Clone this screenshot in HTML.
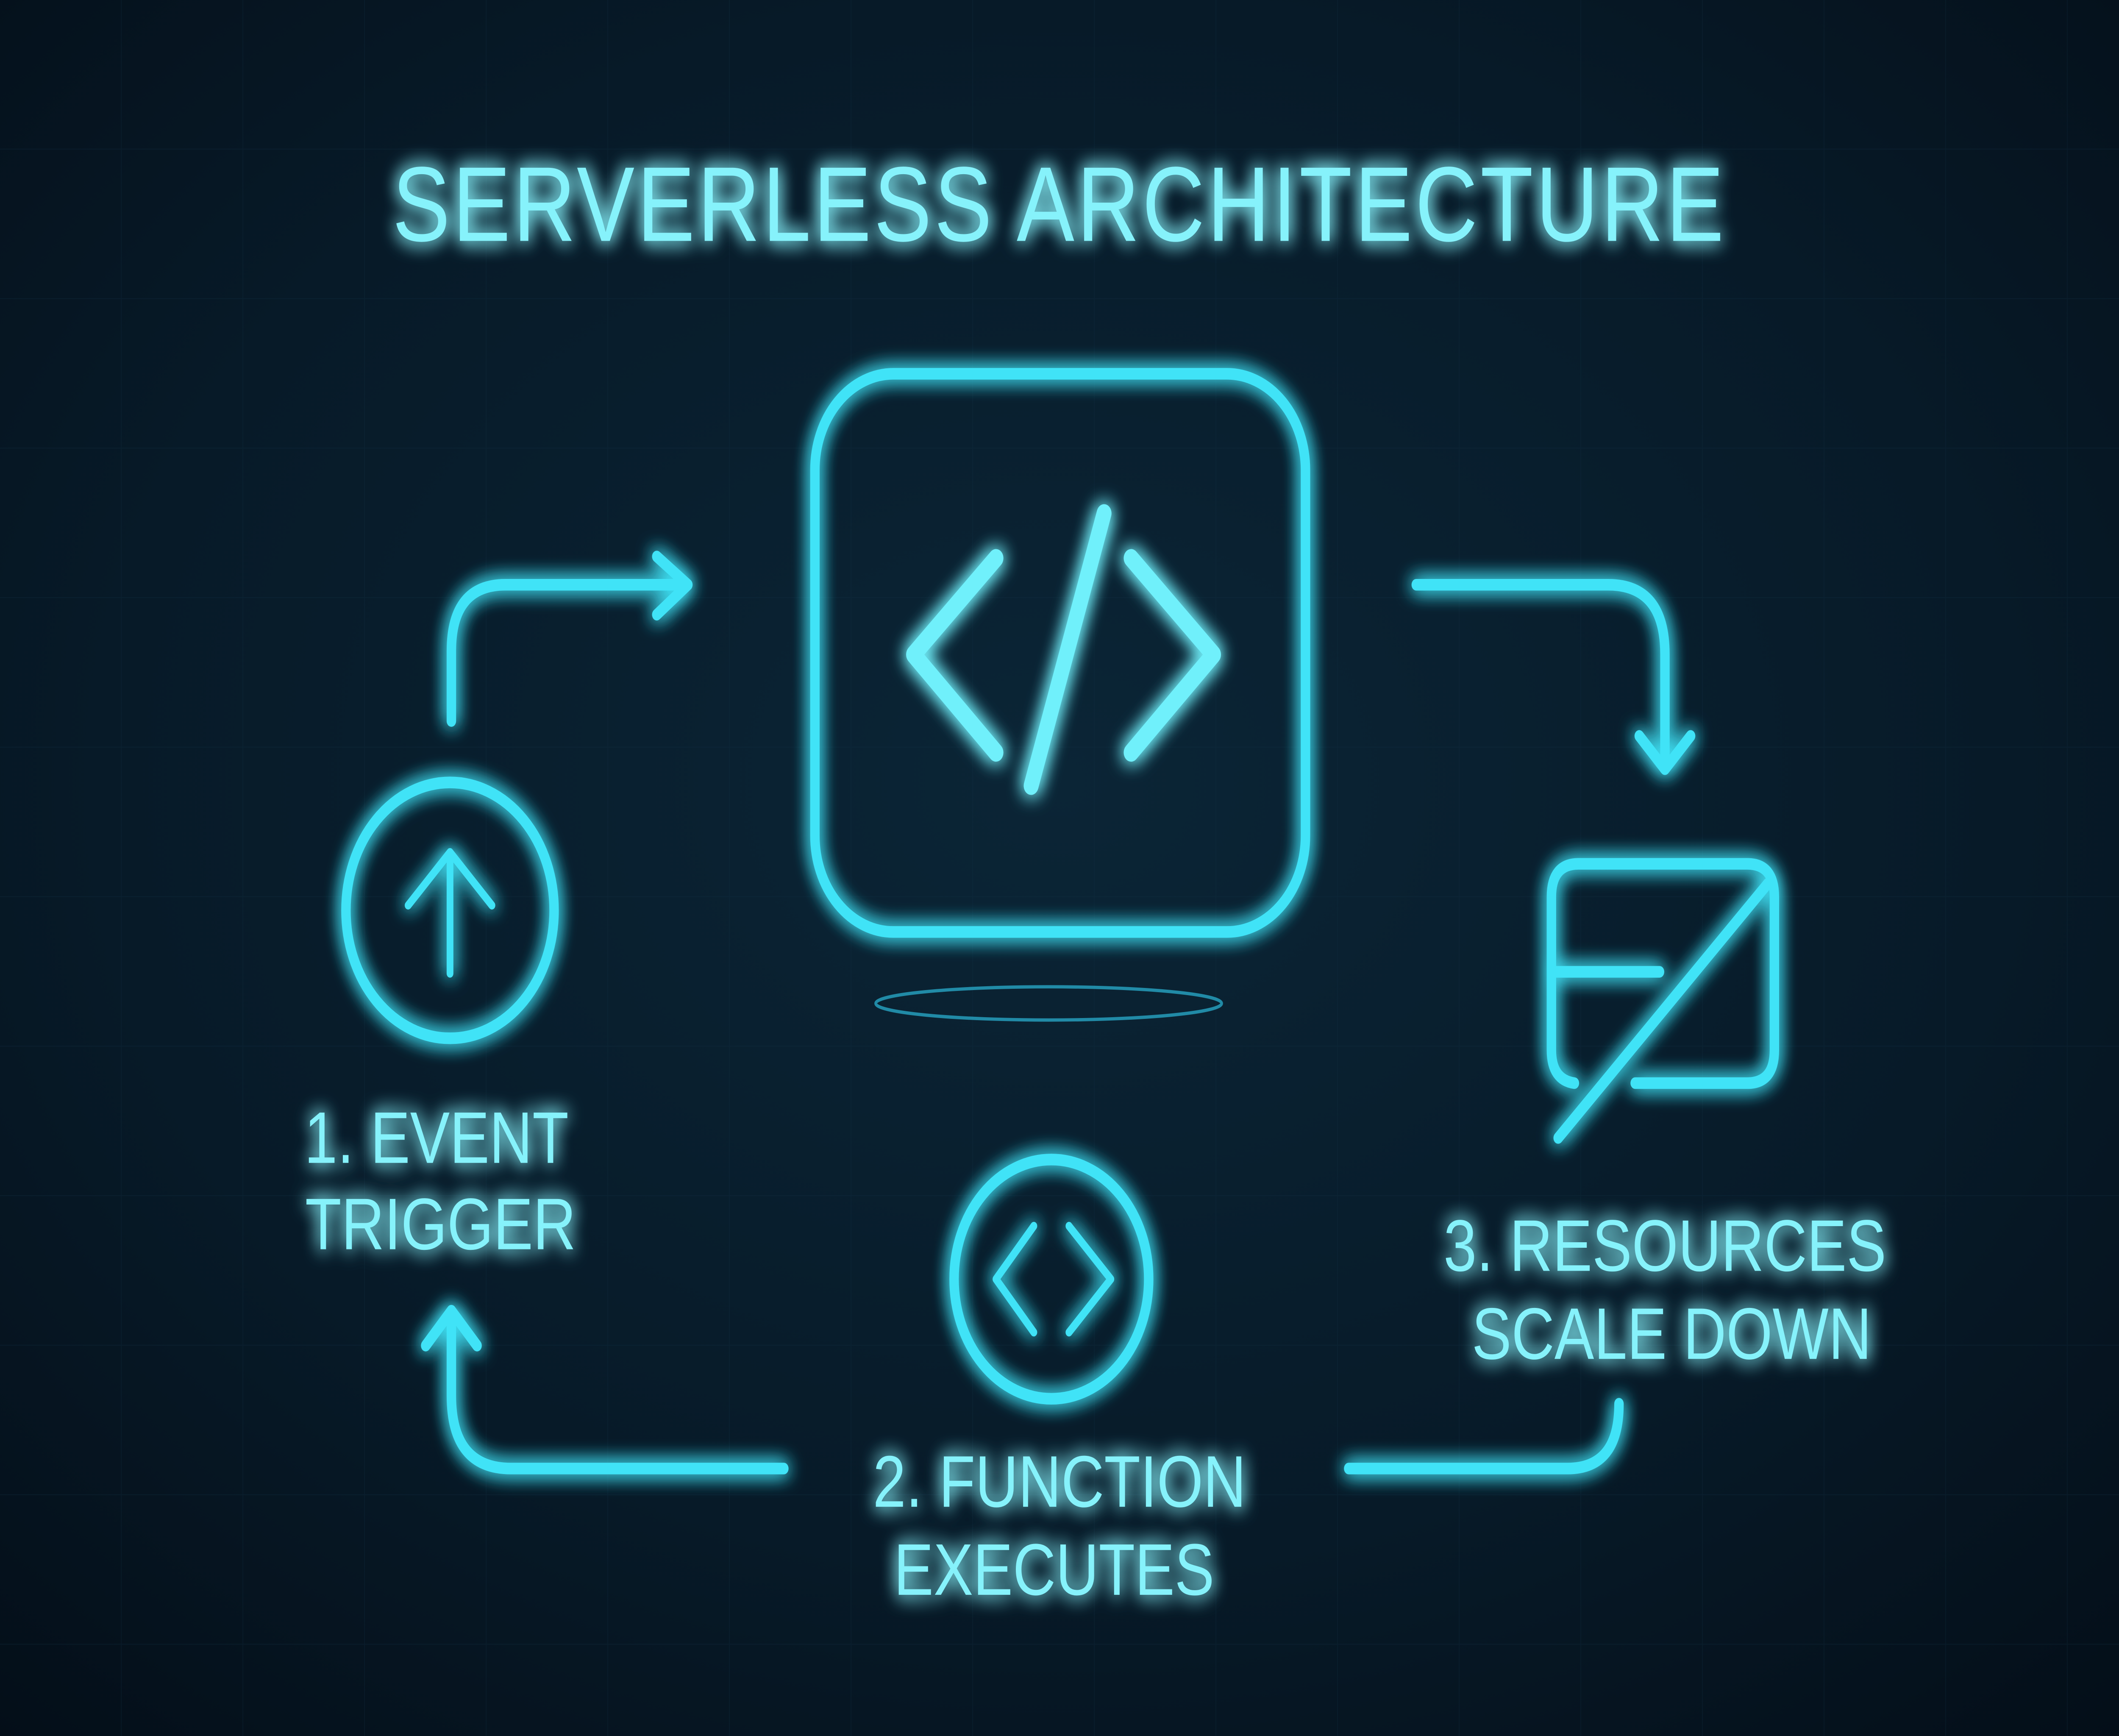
<!DOCTYPE html>
<html><head><meta charset="utf-8">
<style>
html,body{margin:0;padding:0;background:#06141f;overflow:hidden;width:100vw;height:100vh;}
svg{display:block;width:100vw;height:100vh;position:absolute;left:0;top:0;}
</style></head>
<body>
<svg viewBox="0 0 1568 1045" preserveAspectRatio="none" xmlns="http://www.w3.org/2000/svg">
<defs>
<radialGradient id="bg" cx="50%" cy="45%" r="75%">
<stop offset="0" stop-color="#0b2536"/>
<stop offset="0.6" stop-color="#071a28"/>
<stop offset="1" stop-color="#040e18"/>
</radialGradient>
<filter id="glow" x="-30%" y="-30%" width="160%" height="160%">
<feGaussianBlur stdDeviation="6" result="b"/>
<feMerge><feMergeNode in="b"/><feMergeNode in="b"/><feMergeNode in="SourceGraphic"/></feMerge>
</filter>
<filter id="soft"><feGaussianBlur stdDeviation="4"/></filter>
<pattern id="grid" width="90" height="90" patternUnits="userSpaceOnUse">
<path d="M90 0V90M0 90H90" stroke="#123044" stroke-width="1" fill="none" opacity="0.5"/>
</pattern>
</defs>
<rect width="1568" height="1045" fill="url(#bg)"/>
<rect width="1568" height="1045" fill="url(#grid)" opacity="0.6"/>

<g filter="url(#glow)" fill="none" stroke="#3fe3f7" stroke-width="7" stroke-linecap="round" stroke-linejoin="round">
<rect x="603" y="225" width="363" height="336" rx="58"/>
<path d="M737 336 L676 394 L737 453" stroke-width="11" stroke="#6ff0fb"/>
<path d="M837 336 L898 394 L837 453" stroke-width="11" stroke="#6ff0fb"/>
<path d="M817 309 L763 473" stroke-width="11" stroke="#6ff0fb"/>
<circle cx="333" cy="548" r="77"/>
<path d="M333 586 V513 M302 545 L333 513 L364 545" stroke-width="5"/>
<path d="M334 434 V392 Q334 352 374 352 H508 M486 335 L509 352 L486 370"/>
<path d="M1048 352 H1190 Q1232 352 1232 394 V462 M1213 443 L1232 463 L1251 443"/>
<path d="M1210 652 H1293 Q1313 652 1313 632 V540 Q1313 520 1293 520 H1168 Q1148 520 1148 540 V632 Q1148 650 1165 652"/>
<path d="M1150 585 H1228 M1153 685 L1308 532"/>
<circle cx="778" cy="770" r="72"/>
<path d="M765 738 L737 770 L765 802 M791 738 L822 770 L791 802" stroke-width="5"/>
<path d="M580 884 H378 Q334 884 334 840 V790 M315 810 L334 789 L353 810"/>
<path d="M998 884 H1160 Q1198 884 1198 845"/>
</g>

<g fill="none" stroke="#2bb8d8" opacity="0.7">
<ellipse cx="776" cy="604" rx="128" ry="10" stroke-width="2"/>
<path d="M640 636 H915" stroke-width="3" filter="url(#soft)"/>
<path d="M620 660 H935" stroke-width="3" filter="url(#soft)"/>
<path d="M600 683 H950" stroke-width="2" filter="url(#soft)"/>
</g>

<g filter="url(#glow)" fill="#86f2fb" font-family="'Liberation Sans', 'DejaVu Sans', sans-serif" text-anchor="middle">
<text x="784" y="145" font-size="64" letter-spacing="2">SERVERLESS ARCHITECTURE</text>
<text x="323" y="700" font-size="44">1. EVENT</text>
<text x="326" y="752" font-size="44">TRIGGER</text>
<text x="1232" y="765" font-size="44">3. RESOURCES</text>
<text x="1237" y="818" font-size="44">SCALE DOWN</text>
<text x="784" y="907" font-size="44">2. FUNCTION</text>
<text x="780" y="960" font-size="44">EXECUTES</text>
</g>
</svg>
</body></html>
